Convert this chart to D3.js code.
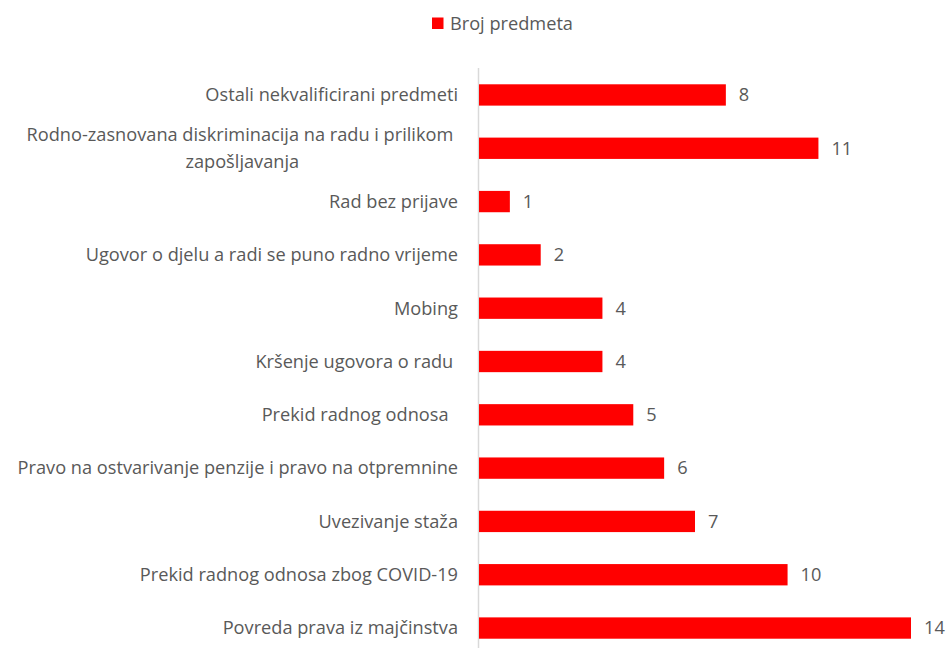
<!DOCTYPE html>
<html>
<head>
<meta charset="utf-8">
<script src="https://cdn.jsdelivr.net/npm/d3@7"></script>
<style>
  body { margin: 0; background: #fff; }
  text { font-family: "Open Sans", "Noto Sans", sans-serif; fill: #595959; white-space: pre; }
</style>
</head>
<body>
<div id="chart"></div>
<script>
// data, top to bottom
var categories = [
  "Ostali nekvalificirani predmeti",
  "Rodno-zasnovana diskriminacija na radu i prilikom |zapošljavanja",
  "Rad bez prijave",
  "Ugovor o djelu a radi se puno radno vrijeme",
  "Mobing",
  "Kršenje ugovora o radu ",
  "Prekid radnog odnosa  ",
  "Pravo na ostvarivanje penzije i pravo na otpremnine",
  "Uvezivanje staža",
  "Prekid radnog odnosa zbog COVID-19",
  "Povreda prava iz majčinstva"
];
var values = [8, 11, 1, 2, 4, 4, 5, 6, 7, 10, 14];
var seriesName = "Broj predmeta";

var fs = "18.2px";
var width = 950, height = 648;
var svg = d3.select("#chart").append("svg")
  .attr("width", width)
  .attr("height", height);

var x = d3.scaleLinear().domain([0, 14]).range([479, 911]);
var y = d3.scaleBand().domain(categories).range([68.3, 654.7]).paddingInner(0.6).paddingOuter(0.3);

// axis line
svg.append("line")
  .attr("x1", 478.5).attr("x2", 478.5)
  .attr("y1", 68).attr("y2", height)
  .style("stroke", "#d9d9d9")
  .style("stroke-width", "1.5px");

var rows = svg.append("g").selectAll("g")
  .data(categories)
  .enter()
  .append("g");

rows.append("rect")
  .attr("x", x(0))
  .attr("y", function(d) { return y(d); })
  .attr("width", function(d, i) { return x(values[i]) - x(0); })
  .attr("height", y.bandwidth())
  .style("fill", "#ff0000");

rows.append("text")
  .attr("x", function(d, i) { return x(values[i]) + 13; })
  .attr("y", function(d) { return y(d) + y.bandwidth() / 2; })
  .attr("dy", "0.35em")
  .style("font-size", fs)
  .text(function(d, i) { return values[i]; });

// category labels (| marks a line break)
rows.each(function(d) {
  var g = d3.select(this);
  var lines = d.split("|");
  var cy = y(d) + y.bandwidth() / 2;
  var t = g.append("text")
    .style("font-size", fs)
    .attr("text-anchor", lines.length > 1 ? "middle" : "end");
  if (lines.length == 1) {
    t.attr("x", 458).attr("y", cy).attr("dy", "0.35em").text(d);
  } else {
    var tmp = g.append("text").style("font-size", fs).text(lines[0]);
    var w = tmp.node().getComputedTextLength();
    tmp.remove();
    var cx = 458 - w / 2;
    lines.forEach(function(l, j) {
      t.append("tspan")
        .attr("x", cx)
        .attr("y", cy + (j - (lines.length - 1) / 2) * 27)
        .attr("dy", "0.35em")
        .text(l);
    });
  }
});

// legend
svg.append("rect")
  .attr("x", 432).attr("y", 17.5)
  .attr("width", 11.5).attr("height", 11.5)
  .style("fill", "#ff0000");
svg.append("text")
  .attr("x", 450).attr("y", 23.5)
  .attr("dy", "0.35em")
  .style("font-size", fs)
  .text(seriesName);
</script>
</body>
</html>
